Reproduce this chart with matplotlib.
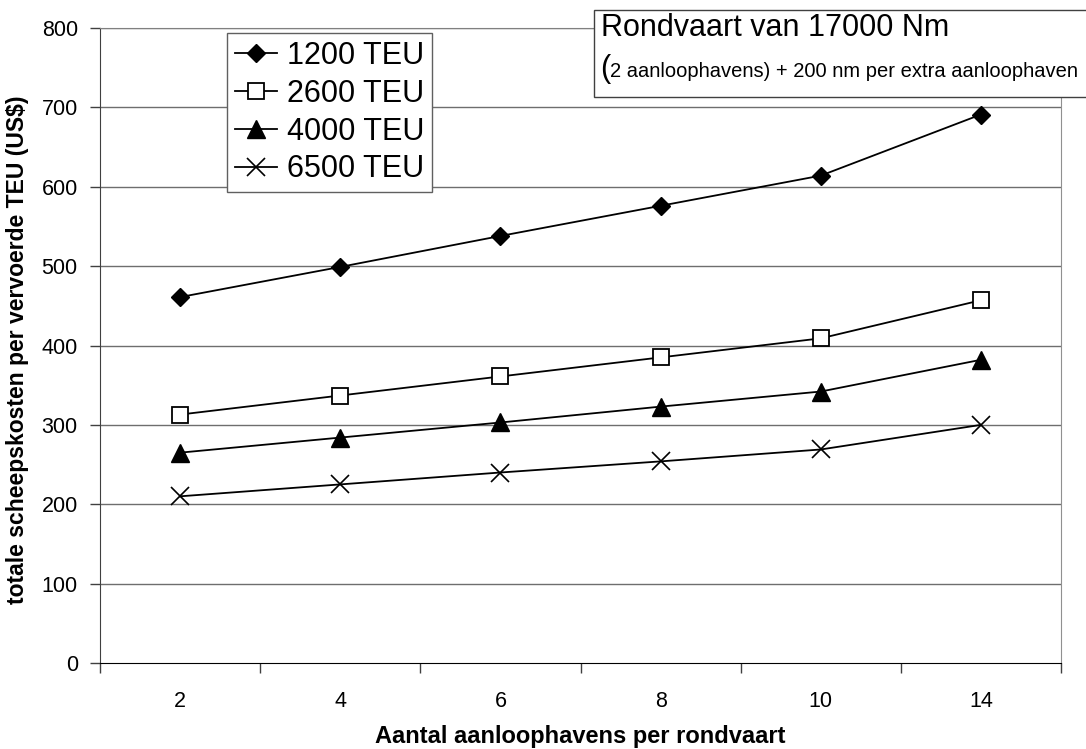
import matplotlib
matplotlib.use("Agg")
import matplotlib.pyplot as plt
from matplotlib.patches import Rectangle

plt.rcParams['font.family'] = ['Liberation Sans', 'DejaVu Sans']

categories = ["2", "4", "6", "8", "10", "14"]
series_names = ["1200 TEU", "2600 TEU", "4000 TEU", "6500 TEU"]
teu1200 = [461, 499, 538, 576, 614, 691]
teu2600 = [313, 337, 361, 385, 409, 457]
teu4000 = [265, 284, 303, 323, 342, 382]
teu6500 = [210, 225, 240, 254, 269, 300]
y_ticks = [0, 100, 200, 300, 400, 500, 600, 700, 800]

W, H = 1086, 749
fig = plt.figure(figsize=(W/100, H/100), dpi=100)
ax = fig.add_axes([100/W, 1-663/H, 961/W, 635/H])

x = list(range(len(categories)))
styles = [
    dict(marker='D', markersize=9, markerfacecolor='black', markeredgecolor='black'),
    dict(marker='s', markersize=12, markerfacecolor='white', markeredgecolor='black', markeredgewidth=1.3),
    dict(marker='^', markersize=13, markerfacecolor='black', markeredgecolor='black'),
    dict(marker='x', markersize=13, markerfacecolor='black', markeredgecolor='black', markeredgewidth=1.2),
]
for vals, name, st in zip([teu1200, teu2600, teu4000, teu6500], series_names, styles):
    ax.plot(x, vals, color='black', lw=1.3, label=name, **st)

ax.set_xlim(-0.5, len(categories) - 0.5)
ax.set_ylim(0, 800)
ax.set_yticks(y_ticks)
ax.set_yticklabels([str(v) for v in y_ticks], fontsize=15.5)
ax.set_xticks(x)
ax.set_xticklabels(categories, fontsize=15.5)
ax.set_xticks([i + 0.5 for i in range(-1, len(categories))], minor=True)
ax.tick_params(axis='x', which='major', length=0, pad=20)
ax.tick_params(axis='x', which='minor', length=7, width=1, color='#404040', direction='out')
ax.tick_params(axis='y', length=7, width=1, color='#404040', direction='out', pad=9)

for v in y_ticks[1:]:
    ax.axhline(v, color='#6e6e6e', lw=1, zorder=0)

ax.spines['left'].set_color('#404040')
ax.spines['bottom'].set_color('black')
ax.spines['right'].set_color('#909090')
ax.spines['top'].set_color('#808080')

fig.text(580/W, 1-737/H, "Aantal aanloophavens per rondvaart", fontsize=17, fontweight='bold',
         ha='center', va='center')
fig.text(18/W, 1-350/H, "totale scheepskosten per vervoerde TEU (US$)", fontsize=16.5, fontweight='bold',
         ha='center', va='center', rotation=90)

leg = ax.legend(loc='upper left', bbox_to_anchor=((227-100)/961, (663-33)/635), fontsize=22,
                frameon=True, fancybox=False, edgecolor='#606060', framealpha=1,
                handlelength=1.4, handletextpad=0.3, borderpad=0.25, labelspacing=0.26,
                borderaxespad=0)
leg.get_frame().set_linewidth(1)

# Annotation box
fig.patches.append(Rectangle((594/W, 1-97/H), 500/W, 87/H, transform=fig.transFigure,
                             facecolor='white', edgecolor='#404040', lw=1, zorder=5))
fig.text(601/W, 1-36/H, "Rondvaart van 17000 Nm", fontsize=22, va='baseline', ha='left', zorder=6)
fig.text(600/W, 1-77/H, "(", fontsize=22, va='baseline', ha='left', zorder=6)
fig.text(610/W, 1-77/H, "2 aanloophavens) + 200 nm per extra aanloophaven", fontsize=14.5,
         va='baseline', ha='left', zorder=6)

fig.savefig("out.png", dpi=100)
